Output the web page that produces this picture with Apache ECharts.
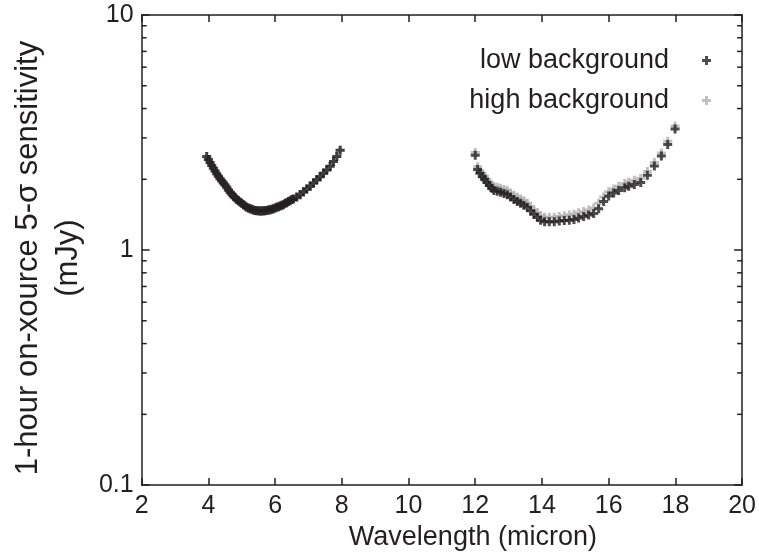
<!DOCTYPE html>
<html>
<head>
<meta charset="utf-8">
<script src="https://cdn.jsdelivr.net/npm/echarts@6/dist/echarts.min.js"></script>
<style>
  html, body { margin: 0; padding: 0; background: #fff; }
  #chart { width: 759px; height: 556px; }
</style>
</head>
<body>
<div id="chart"></div>
<script>
// short-wavelength band (both curves coincide here)
const waveShort = [3.95, 4.00, 4.05, 4.10, 4.15, 4.20, 4.25, 4.30, 4.35, 4.40, 4.45, 4.50, 4.55, 4.60, 4.65, 4.70,
  4.75, 4.80, 4.85, 4.90, 4.95, 5.00, 5.05, 5.10, 5.15, 5.20, 5.25, 5.30, 5.35, 5.40, 5.45, 5.50, 5.55, 5.60,
  5.65, 5.70, 5.75, 5.80, 5.85, 5.90, 5.95, 6.00, 6.05, 6.10, 6.15, 6.20, 6.25, 6.30, 6.35, 6.40, 6.45, 6.50,
  6.55, 6.65, 6.75, 6.85, 6.95, 7.05, 7.15, 7.25, 7.35, 7.45, 7.55, 7.65, 7.75, 7.85, 7.95]
const lowShort = [2.50, 2.43, 2.36, 2.29, 2.23, 2.17, 2.11, 2.06, 2.01, 1.97, 1.93, 1.89, 1.85, 1.80, 1.76, 1.73,
  1.70, 1.67, 1.64, 1.62, 1.60, 1.58, 1.56, 1.54, 1.52, 1.51, 1.50, 1.49, 1.48, 1.475, 1.47, 1.47, 1.465, 1.465,
  1.47, 1.47, 1.475, 1.48, 1.485, 1.49, 1.50, 1.51, 1.52, 1.53, 1.54, 1.55, 1.56, 1.58, 1.59, 1.61, 1.62, 1.64,
  1.65, 1.68, 1.72, 1.77, 1.82, 1.87, 1.93, 1.99, 2.05, 2.12, 2.19, 2.27, 2.38, 2.50, 2.66]
const highShort = lowShort

// long-wavelength band
const waveLong = [12.00, 12.07, 12.14, 12.21, 12.28, 12.35, 12.42, 12.49, 12.56, 12.66, 12.76, 12.86, 12.96,
  13.06, 13.16, 13.26, 13.36, 13.46, 13.56, 13.66, 13.76, 13.86, 13.96, 14.08, 14.22, 14.37, 14.52, 14.67,
  14.82, 14.96, 15.10, 15.25, 15.40, 15.55, 15.70, 15.85, 16.00, 16.15, 16.30, 16.48, 16.60, 16.77, 16.96,
  17.16, 17.37, 17.58, 17.77, 17.99]
const lowLong = [2.53, 2.20, 2.12, 2.05, 2.00, 1.94, 1.88, 1.83, 1.79, 1.78, 1.76, 1.74, 1.72,
  1.68, 1.64, 1.61, 1.58, 1.55, 1.52, 1.47, 1.42, 1.38, 1.34, 1.32, 1.32, 1.32, 1.33, 1.335,
  1.34, 1.35, 1.37, 1.39, 1.41, 1.43, 1.50, 1.61, 1.70, 1.75, 1.79, 1.84, 1.87, 1.90, 1.94,
  2.08, 2.28, 2.51, 2.81, 3.27]
const highLong = [2.60, 2.26, 2.18, 2.11, 2.06, 2.00, 1.94, 1.89, 1.86, 1.85, 1.83, 1.81, 1.79,
  1.75, 1.71, 1.68, 1.65, 1.62, 1.58, 1.53, 1.48, 1.44, 1.40, 1.38, 1.38, 1.38, 1.39, 1.40,
  1.41, 1.42, 1.44, 1.46, 1.48, 1.51, 1.58, 1.68, 1.77, 1.82, 1.87, 1.92, 1.95, 1.98, 2.02,
  2.16, 2.36, 2.59, 2.90, 3.37]

const minorTicks = [0.2, 0.3, 0.4, 0.5, 0.6, 0.7, 0.8, 0.9, 2, 3, 4, 5, 6, 7, 8, 9]

const ink = '#231f20'
const grey = '#b2b2b2'
const font = "'Liberation Sans', Arial, Helvetica, sans-serif"
const plus = 'path://M3,0H6V3H9V6H6V9H3V6H0V3H3Z'

const zip = (xs, ys) => xs.map((x, i) => [x, ys[i]])
const lowData = zip(waveShort, lowShort).concat(zip(waveLong, lowLong))
const highData = zip(waveShort, highShort).concat(zip(waveLong, highLong))

const axisLine = { show: true, lineStyle: { color: ink, width: 1.5 } }
const yBase = { type: 'log', logBase: 10, min: 0.1, max: 10, splitLine: { show: false } }
const xBase = { type: 'value', min: 2, max: 20, interval: 2, splitLine: { show: false } }

const chart = echarts.init(document.getElementById('chart'))
chart.setOption({
  animation: false,
  grid: { left: 133, right: 12, top: 15, bottom: 63 },
  legend: {
    orient: 'vertical',
    right: 43,
    top: 42,
    align: 'right',
    itemWidth: 9,
    itemHeight: 9,
    itemGap: 13,
    textStyle: { fontSize: 27, color: ink, fontFamily: font, padding: [0, 28, 0, 0] },
    data: [
      { name: 'low background', icon: plus },
      { name: 'high background', icon: plus }
    ]
  },
  xAxis: [
    Object.assign({}, xBase, {
      position: 'bottom',
      axisLine,
      axisTick: { inside: true, length: 7, lineStyle: { color: ink, width: 1.5 } },
      axisLabel: { fontSize: 25, color: ink, fontFamily: font, margin: 9 },
      name: 'Wavelength (micron)',
      nameLocation: 'middle',
      nameGap: 36,
      nameTextStyle: { fontSize: 27, color: ink, fontFamily: font, padding: [0, 0, 0, 62] }
    }),
    Object.assign({}, xBase, {
      position: 'top',
      axisLine,
      axisTick: { inside: true, length: 7, lineStyle: { color: ink, width: 1.5 } },
      axisLabel: { show: false }
    })
  ],
  yAxis: [
    Object.assign({}, yBase, {
      position: 'left',
      axisLine,
      axisTick: { inside: true, length: 8, lineStyle: { color: ink, width: 1.5 } },
      axisLabel: { fontSize: 25, color: ink, fontFamily: font, margin: 8 },
      name: '1-hour on-xource 5-σ sensitivity\n(mJy)',
      nameLocation: 'middle',
      nameRotate: 90,
      nameGap: 47,
      nameTextStyle: { fontSize: 31, lineHeight: 40, color: ink, fontFamily: font, padding: [0, 16, 0, 0] }
    }),
    Object.assign({}, yBase, {
      position: 'right',
      axisLine,
      axisTick: { inside: true, length: 8, lineStyle: { color: ink, width: 1.5 } },
      axisLabel: { show: false }
    })
  ],
  series: [
    {
      // short minor ticks of the log axis, on both sides
      type: 'custom',
      silent: true,
      clip: false,
      data: minorTicks.map(v => [2, v]),
      renderItem: (params, api) => {
        const v = api.value(1)
        const l = api.coord([2, v])
        const r = api.coord([20, v])
        const style = { stroke: ink, lineWidth: 1.5 }
        return {
          type: 'group',
          children: [
            { type: 'line', shape: { x1: l[0], y1: l[1], x2: l[0] + 5, y2: l[1] }, style },
            { type: 'line', shape: { x1: r[0], y1: r[1], x2: r[0] - 5, y2: r[1] }, style }
          ]
        }
      }
    },
    {
      name: 'high background',
      type: 'scatter',
      symbol: plus,
      symbolSize: 9,
      itemStyle: { color: grey },
      data: highData
    },
    {
      name: 'low background',
      type: 'scatter',
      symbol: plus,
      symbolSize: 9,
      itemStyle: { color: ink },
      data: lowData
    }
  ]
})
</script>
</body>
</html>
